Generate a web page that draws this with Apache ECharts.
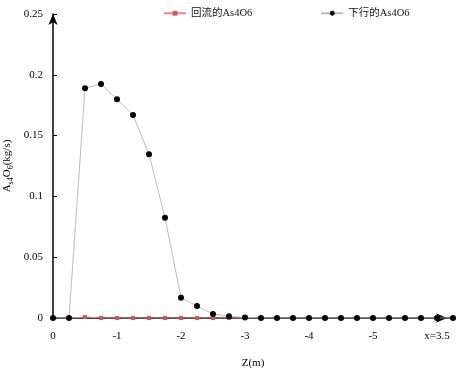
<!DOCTYPE html>
<html>
<head>
<meta charset="utf-8">
<script src="https://cdn.jsdelivr.net/npm/echarts@6/dist/echarts.min.js"></script>
<style>
  html, body { margin: 0; padding: 0; background: #fff; }
  #chart { width: 459px; height: 368px; }
</style>
</head>
<body>
<div id="chart"></div>
<script>
// Z positions (m), one point every 0.25 m
var zValues = ['0', '-0.25', '-0.5', '-0.75', '-1', '-1.25', '-1.5', '-1.75', '-2', '-2.25', '-2.5', '-2.75', '-3',
    '-3.25', '-3.5', '-3.75', '-4', '-4.25', '-4.5', '-4.75', '-5', '-5.25', '-5.5', '-5.75', '-6', '-6.25'];

// 回流的As4O6
var refluxValues = [null, 0, 0.0008, 0, 0, 0, 0, 0, 0, 0, 0, 0, 0,
    null, null, null, null, null, null, null, null, null, null, null, null, null];

// 下行的As4O6
var downValues = [0, 0, 0.1889, 0.1924, 0.1798, 0.1669, 0.1346, 0.0825, 0.0167, 0.0099, 0.0033, 0.0014, 0.0005,
    0, 0, 0, 0, 0, 0, 0, 0, 0, 0, 0, 0, 0];

var seriesNames = ['回流的As4O6', '下行的As4O6'];

var serif = '"Liberation Serif", "Noto Sans CJK SC", serif';

var myChart = echarts.init(document.getElementById('chart'));

var option = {
    animation: false,
    textStyle: { fontFamily: serif, color: '#000' },
    legend: {
        data: seriesNames,
        left: 163,
        top: 8,
        padding: 0,
        itemGap: 68,
        itemWidth: 22,
        itemHeight: 6,
        textStyle: { fontFamily: serif, fontSize: 10.5, color: '#111' }
    },
    grid: {
        left: 53,
        right: 6,
        top: 14,
        bottom: 50,
        outerBoundsMode: 'none',
        containLabel: false
    },
    xAxis: {
        type: 'category',
        boundaryGap: false,
        data: zValues,
        name: 'Z(m)',
        nameLocation: 'middle',
        nameGap: 40,
        nameMoveOverlap: false,
        nameTextStyle: { fontFamily: serif, fontSize: 11, color: '#000' },
        axisLine: {
            lineStyle: { color: '#000', width: 1.5 },
            symbol: ['none', 'arrow'],
            symbolSize: [7, 11],
            symbolOffset: [0, -6]
        },
        axisTick: { show: false },
        axisLabel: {
            interval: 3,
            margin: 13,
            fontFamily: serif,
            fontSize: 11,
            color: '#000',
            formatter: function (v) { return v === '-6' ? 'x=3.5' : v; }
        },
        splitLine: { show: false }
    },
    yAxis: {
        type: 'value',
        min: 0,
        max: 0.25,
        interval: 0.05,
        name: '{n|A}{s|s4}{n|O}{s|6}{n|(kg/s)}',
        nameLocation: 'middle',
        nameGap: 40,
        nameMoveOverlap: false,
        nameRotate: 90,
        nameTextStyle: {
            rich: {
                n: { fontFamily: serif, fontSize: 11, color: '#000', verticalAlign: 'bottom' },
                s: { fontFamily: serif, fontSize: 8, color: '#000', verticalAlign: 'bottom', padding: [0, 0, -2, 0] }
            }
        },
        axisLine: {
            show: true,
            lineStyle: { color: '#000', width: 1.5 },
            symbol: ['none', 'arrow'],
            symbolSize: [7, 11]
        },
        axisTick: {
            show: true,
            inside: true,
            length: 4,
            lineStyle: { color: '#000' }
        },
        axisLabel: {
            margin: 10,
            fontFamily: serif,
            fontSize: 11,
            color: '#000'
        },
        splitLine: { show: false }
    },
    series: [
        {
            name: seriesNames[0],
            type: 'line',
            data: refluxValues,
            symbol: 'rect',
            symbolSize: 4,
            color: '#d9534f',
            lineStyle: { color: '#e88', width: 1 },
            itemStyle: { color: '#d9534f' }
        },
        {
            name: seriesNames[1],
            type: 'line',
            data: downValues,
            symbol: 'circle',
            symbolSize: 6,
            color: '#000',
            lineStyle: { color: '#bbb', width: 1 },
            itemStyle: { color: '#000' }
        }
    ]
};

myChart.setOption(option);
</script>
</body>
</html>
